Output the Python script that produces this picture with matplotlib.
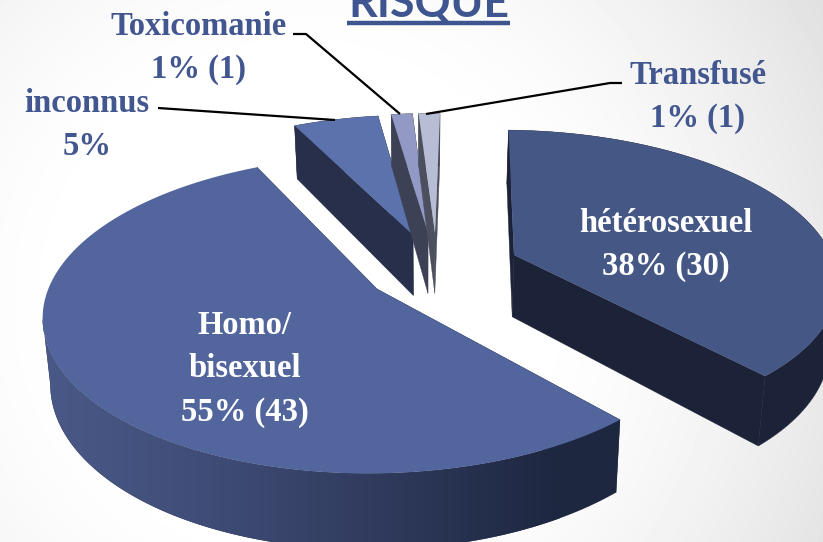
import numpy as np
import matplotlib
matplotlib.use("Agg")
import matplotlib.pyplot as plt
from matplotlib.patches import Polygon

# data
categories = ["Homo/\nbisexuel", "hétérosexuel", "Transfusé", "Toxicomanie", "inconnus"]
counts = [43, 30, 1, 1, 4]
percent_labels = ["55% (43)", "38% (30)", "1% (1)", "1% (1)", "5%"]

# style / projection
W, H = 823, 542
START_DEG = 116.0
CX, CY = 425.0, 228.0
RX, RY, K = 308.0, 136.0, 0.15
DEPTH = 60.0
SHRINK = 0.98
apex = [(377, 289), (514, 255), (435, 233), (428, 233), (413, 235)]
top_col = ["#52659c", "#455785", "#b8bdd6", "#9199c4", "#5b72ad"]
wall_col = [None, "#1c2237", "#4b4f5e", "#3d4155", "#272f4a"]
draw_order = [4, 3, 2, 0, 1]
BLUE = "#42568f"
SERIF = "Liberation Serif"

fig = plt.figure(figsize=(W / 100, H / 100), dpi=100)
ax = fig.add_axes([0, 0, 1, 1])
ax.set_xlim(0, W)
ax.set_ylim(H, 0)
ax.axis("off")

# background gradient
yy, xx = np.mgrid[0:H, 0:W]
d = np.hypot((xx - 300) / 620.0, (yy - 300) / 620.0)
bg = 1 - 0.13 * np.clip((d - 0.35) / 0.65, 0, 1) ** 1.6
ax.imshow(bg, extent=(0, W, H, 0), cmap="gray", vmin=0, vmax=1, aspect="auto", zorder=0)


def plane_origin(px, py):
    """Exploded wedge apex on the pie plane, from its position on the picture."""
    dd = CY - py
    V = dd / (RY - K * dd)
    s = 1 / (1 + K * V)
    return (px - CX) / (RX * s), V


def project(U, V):
    s = 1 / (1 + K * V)
    return CX + RX * U * s, CY - RY * V * s, s


gradient = matplotlib.colors.LinearSegmentedColormap.from_list(
    "wall", ["#4a5a88", "#3f4c76", "#2f3a5c", "#1d2740"])

angles = np.cumsum([0] + counts) / sum(counts) * 360 + START_DEG
z = 2
for i in draw_order:
    U0, V0 = plane_origin(*apex[i])
    ts = np.radians(np.linspace(angles[i], angles[i + 1], 240))
    x, y, s = project(U0 + np.cos(ts), V0 + np.sin(ts))
    ax_, ay_, as_ = project(U0, V0)
    xb = CX + (x - CX) * SHRINK
    yb = y + DEPTH * s
    axb = CX + (ax_ - CX) * SHRINK
    ayb = ay_ + DEPTH * as_
    col = wall_col[i] or "#1d2740"
    # radial walls
    for j in (0, -1):
        q = [(ax_, ay_), (x[j], y[j]), (xb[j], yb[j]), (axb, ayb)]
        ax.add_patch(Polygon(q, closed=True, fc=col, ec=col, lw=0.3, zorder=z))
    # rim wall
    if wall_col[i] is None:
        k = int(np.argmin(x))
        rim = np.r_[np.c_[x[k:], y[k:]], np.c_[xb[k:], yb[k:]][::-1]]
        p2 = Polygon(rim, closed=True, fc="#1d2740", ec="none", zorder=z + 0.05)
        ax.add_patch(p2)
        g = np.linspace(0, 1, 512).reshape(1, -1)
        im = ax.imshow(g, extent=(35, 560, H, 0), cmap=gradient, aspect="auto", zorder=z + 0.1)
        im.set_clip_path(p2)
    else:
        rim = np.r_[np.c_[x, y], np.c_[xb, yb][::-1]]
        ax.add_patch(Polygon(rim, closed=True, fc=col, ec=col, lw=0.3, zorder=z))
    ax.add_patch(Polygon(np.r_[[(ax_, ay_)], np.c_[x, y]], closed=True, fc=top_col[i], ec="none", zorder=z + 0.5))
    z += 1

# imshow resets limits
ax.set_xlim(0, W)
ax.set_ylim(H, 0)

# leaders
leaders = [[(293, 34), (306, 34), (400, 114)],
           [(158, 108), (335, 120)],
           [(622, 83), (610, 83), (426, 114)]]
for ln in leaders:
    a = np.array(ln)
    ax.plot(a[:, 0], a[:, 1], color="black", lw=1.6, zorder=20, solid_capstyle="butt")

# title
ax.text(429, 17, "RISQUE", color="#3f5590", fontsize=32, fontweight="bold", family="Lato",
        ha="center", va="baseline", zorder=21)
ax.plot([347, 510], [23, 23], color="#3f5590", lw=3.2, zorder=21, solid_capstyle="butt")

# labels
fs = 23.5
tkw = dict(family=SERIF, fontweight="bold", fontsize=fs, ha="center", va="center", zorder=22, linespacing=1.5)
ax.text(199, 48, categories[3] + "\n" + percent_labels[3], color=BLUE, **tkw)
ax.text(87, 125, categories[4] + "\n" + percent_labels[4], color=BLUE, **tkw)
ax.text(698, 97, categories[2] + "\n" + percent_labels[2], color=BLUE, **tkw)
ax.text(666, 245, categories[1] + "\n" + percent_labels[1], color="white", **tkw)
ax.text(245, 369, categories[0] + "\n" + percent_labels[0], color="white", **tkw)

fig.savefig("out.png", dpi=100)
